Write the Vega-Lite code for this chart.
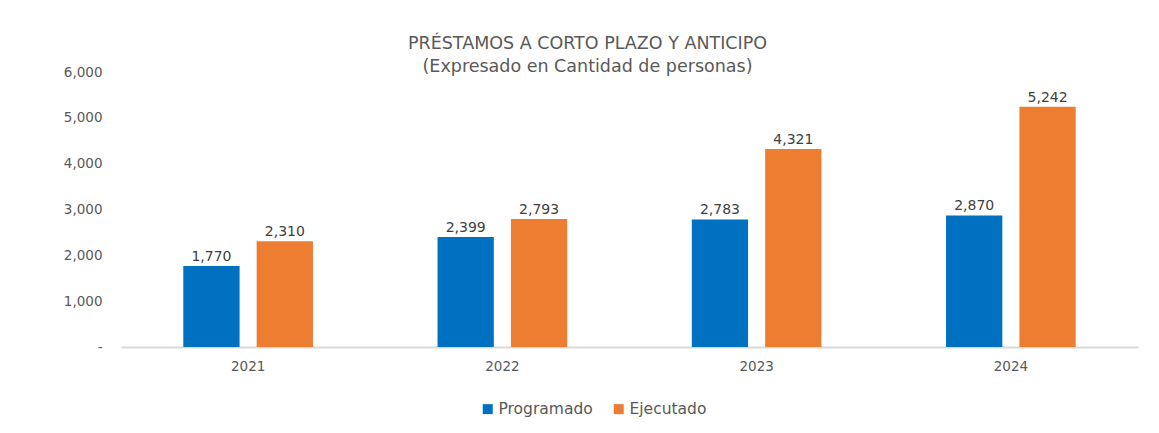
{
  "$schema": "https://vega.github.io/schema/vega-lite/v6.json",
  "width": 1017,
  "height": 275,
  "autosize": {"type": "none"},
  "padding": {"left": 121, "top": 72, "right": 21, "bottom": 86},
  "background": "white",
  "config": {
    "font": "DejaVu Sans",
    "view": {"stroke": null},
    "text": {"color": "#404040"}
  },
  "title": {
    "text": ["PRÉSTAMOS A CORTO PLAZO Y ANTICIPO", "(Expresado en Cantidad de personas)"],
    "fontSize": 17.5,
    "fontWeight": "normal",
    "color": "#595959",
    "anchor": "middle",
    "dx": -42,
    "offset": -10,
    "lineHeight": 23
  },
  "data": {
    "values": [
      {"anio": "2021", "serie": "Programado", "valor": 1770},
      {"anio": "2021", "serie": "Ejecutado", "valor": 2310},
      {"anio": "2022", "serie": "Programado", "valor": 2399},
      {"anio": "2022", "serie": "Ejecutado", "valor": 2793},
      {"anio": "2023", "serie": "Programado", "valor": 2783},
      {"anio": "2023", "serie": "Ejecutado", "valor": 4321},
      {"anio": "2024", "serie": "Programado", "valor": 2870},
      {"anio": "2024", "serie": "Ejecutado", "valor": 5242}
    ]
  },
  "encoding": {
    "x": {
      "field": "anio",
      "type": "nominal",
      "scale": {"paddingInner": 0.49, "paddingOuter": 0.245},
      "axis": {
        "title": null,
        "labelAngle": 0,
        "labelFontSize": 13.5,
        "labelColor": "#595959",
        "labelPadding": 12,
        "ticks": false,
        "domainColor": "#d9d9d9",
        "domainWidth": 2,
        "grid": false
      }
    },
    "xOffset": {
      "field": "serie",
      "type": "nominal",
      "sort": ["Programado", "Ejecutado"],
      "scale": {"paddingInner": 0.233, "paddingOuter": 0}
    },
    "y": {
      "field": "valor",
      "type": "quantitative",
      "scale": {"domain": [0, 6000], "nice": false},
      "axis": {
        "title": null,
        "values": [0, 1000, 2000, 3000, 4000, 5000, 6000],
        "labelExpr": "datum.value == 0 ? '-' : format(datum.value, ',')",
        "labelFontSize": 13.5,
        "labelColor": "#595959",
        "labelPadding": 19,
        "domain": false,
        "ticks": false,
        "grid": false
      }
    }
  },
  "layer": [
    {
      "mark": {"type": "bar"},
      "encoding": {
        "color": {
          "field": "serie",
          "type": "nominal",
          "sort": ["Programado", "Ejecutado"],
          "scale": {"domain": ["Programado", "Ejecutado"], "range": ["#0070C0", "#ED7D31"]},
          "legend": {
            "title": null,
            "orient": "none",
            "direction": "horizontal",
            "legendX": 359,
            "legendY": 329,
            "symbolType": "square",
            "symbolSize": 100,
            "symbolOffset": 0,
            "labelFontSize": 15.5,
            "labelColor": "#595959",
            "labelOffset": 3,
            "columnPadding": 18
          }
        }
      }
    },
    {
      "mark": {"type": "text", "baseline": "bottom", "dy": -2, "fontSize": 14, "color": "#404040"},
      "encoding": {
        "text": {"field": "valor", "type": "quantitative", "format": ","}
      }
    }
  ]
}
